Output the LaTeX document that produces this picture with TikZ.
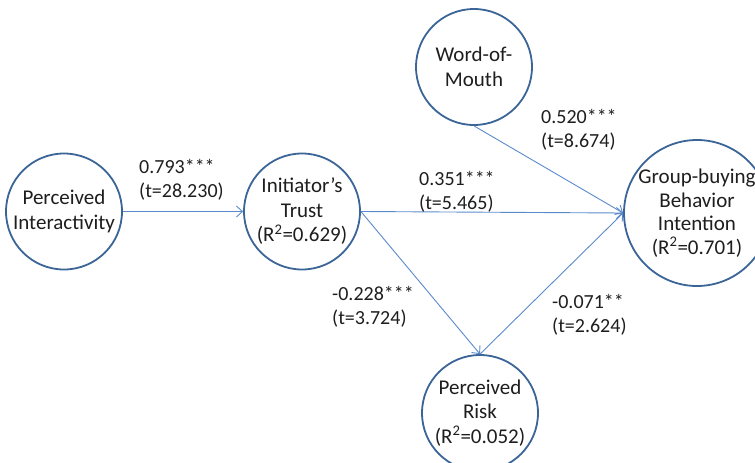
\documentclass[tikz,border=0pt]{standalone}
\usepackage{fontspec}
\setmainfont{Carlito}
\usetikzlibrary{arrows.meta}
\definecolor{ringblue}{HTML}{3B6597}
\definecolor{lineblue}{HTML}{5A8ACB}
\definecolor{txt}{HTML}{1E1E1E}
\tikzset{
  construct/.style={circle,draw=ringblue,line width=1.8pt,fill=white,minimum size=116pt,inner sep=0pt,align=center,text=txt,font=\fontsize{21}{24.5}\selectfont},
  path/.style={draw=lineblue,line width=0.9pt,-{Straight Barb[length=6pt,width=11pt]}},
  coef/.style={anchor=north west,inner sep=0pt,align=left,text=txt,font=\fontsize{20}{24}\selectfont}
}
\begin{document}
\begin{tikzpicture}[x=1pt,y=-1pt]
\useasboundingbox (0,0) rectangle (755,463);
\node[construct] (pi) at (64,211.5) {Perceived\\Interactivity};
\node[construct] (tr) at (302,211.5) {Initiator’s\\Trust\\(R\textsuperscript{2}=0.629)};
\node[construct] (wom) at (474,67) {Word-of-\\Mouth};
\node[construct,minimum size=146pt,inner sep=-6pt,font=\fontsize{21}{23.5}\selectfont] (gb) at (697,213) {Group-buying\\Behavior\\Intention\\(R\textsuperscript{2}=0.701)};
\node[construct] (pr) at (480,413) {Perceived\\Risk\\(R\textsuperscript{2}=0.052)};
\draw[path] (pi) -- (tr);
\draw[path] (tr.east) -- (gb.west);
\draw[path] (wom.south) -- (gb.west);
\draw[path] (tr.east) -- (pr.north);
\draw[path] (pr.north) -- (gb.west);
\node[coef] (c1) at (139,159) {0.793***\\(t=28.230)};
\node[coef] (c2) at (419,171) {0.351***\\(t=5.465)};
\node[coef] (c3) at (541,109) {0.520***\\(t=8.674)};
\node[coef] (c4) at (332,286) {-0.228***\\(t=3.724)};
\node[coef] (c5) at (552,294) {-0.071**\\(t=2.624)};
\end{tikzpicture}
\end{document}
